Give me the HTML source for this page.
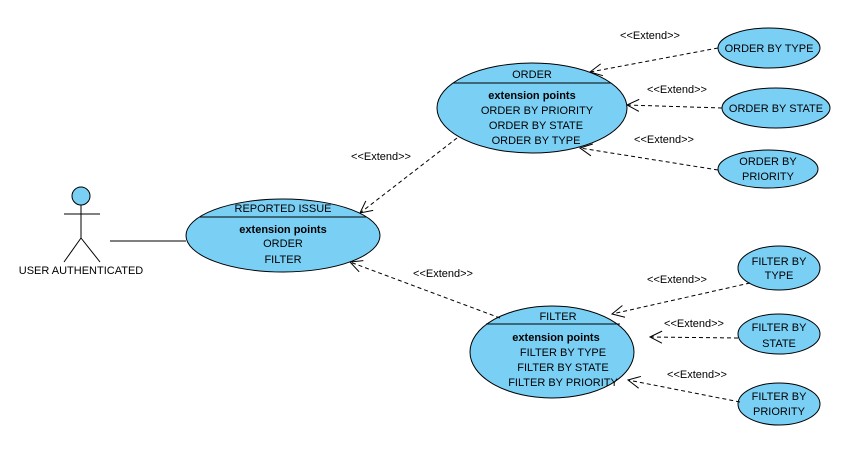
<!DOCTYPE html><html><head><meta charset="utf-8"><style>body{margin:0;background:#fff}svg{display:block}text{font-family:"Liberation Sans",sans-serif;font-size:11px;fill:#000}</style></head><body>
<svg width="862" height="452" viewBox="0 0 862 452" xmlns="http://www.w3.org/2000/svg">
<defs><marker id="a" markerWidth="14" markerHeight="14" refX="13" refY="7" orient="auto" markerUnits="userSpaceOnUse"><path d="M1,1 L13,7 L1,13" fill="none" stroke="#000" stroke-width="1" stroke-dasharray="none"/></marker></defs>
<g fill="#7acff5" stroke="#000" stroke-width="1">
<circle cx="81" cy="196" r="9"/>
<ellipse cx="283" cy="235.5" rx="97" ry="36.5"/>
<ellipse cx="532" cy="108" rx="95" ry="45"/>
<ellipse cx="769" cy="48" rx="51" ry="20"/>
<ellipse cx="776" cy="108" rx="54" ry="20"/>
<ellipse cx="768" cy="169" rx="50" ry="19"/>
<ellipse cx="552" cy="352" rx="82" ry="46"/>
<ellipse cx="779" cy="268" rx="41" ry="22"/>
<ellipse cx="779" cy="334" rx="41" ry="20"/>
<ellipse cx="779" cy="404" rx="41" ry="21"/>
</g>
<g stroke="#000" stroke-width="1" fill="none">
<path d="M81,205V238M64,214H100M81,238L64,262M81,238L100,262M110,241H186"/>
<path d="M200,217H366M453,83H611M486,324H620"/>
</g>
<g stroke="#000" stroke-width="1" fill="none" stroke-dasharray="4,3" marker-end="url(#a)">
<path d="M457,138L360,213"/><path d="M500,318L350,262"/>
<path d="M718,48L590,72"/><path d="M722,108L627,105"/><path d="M718,170L580,148"/>
<path d="M750,283L612,314"/><path d="M738,338L650,337"/><path d="M740,402L628,380"/>
</g>
<g text-anchor="middle">
<text x="81" y="274">USER AUTHENTICATED</text>
<text x="283" y="212">REPORTED ISSUE</text>
<text x="283" y="233" font-weight="bold">extension points</text>
<text x="283" y="247">ORDER</text><text x="283" y="263">FILTER</text>
<text x="532" y="78">ORDER</text>
<text x="532" y="99" font-weight="bold">extension points</text>
<text x="537" y="114">ORDER BY PRIORITY</text><text x="536" y="129">ORDER BY STATE</text><text x="536" y="144">ORDER BY TYPE</text>
<text x="769" y="52">ORDER BY TYPE</text><text x="776" y="112">ORDER BY STATE</text>
<text x="768" y="165">ORDER BY</text><text x="768" y="180">PRIORITY</text>
<text x="558" y="320">FILTER</text>
<text x="556" y="341" font-weight="bold">extension points</text>
<text x="563" y="356">FILTER BY TYPE</text><text x="563" y="371">FILTER BY STATE</text><text x="563" y="386">FILTER BY PRIORITY</text>
<text x="779" y="265">FILTER BY</text><text x="779" y="279">TYPE</text>
<text x="779" y="331">FILTER BY</text><text x="779" y="347">STATE</text>
<text x="779" y="400">FILTER BY</text><text x="779" y="415">PRIORITY</text>
</g>
<g text-anchor="middle" style="font-size:10px">
<text x="381" y="160">&lt;&lt;Extend&gt;&gt;</text><text x="443" y="277">&lt;&lt;Extend&gt;&gt;</text>
<text x="650" y="39">&lt;&lt;Extend&gt;&gt;</text><text x="677" y="93">&lt;&lt;Extend&gt;&gt;</text><text x="664" y="143">&lt;&lt;Extend&gt;&gt;</text>
<text x="677" y="283">&lt;&lt;Extend&gt;&gt;</text><text x="694" y="327">&lt;&lt;Extend&gt;&gt;</text><text x="697" y="378">&lt;&lt;Extend&gt;&gt;</text>
</g>
</svg></body></html>
